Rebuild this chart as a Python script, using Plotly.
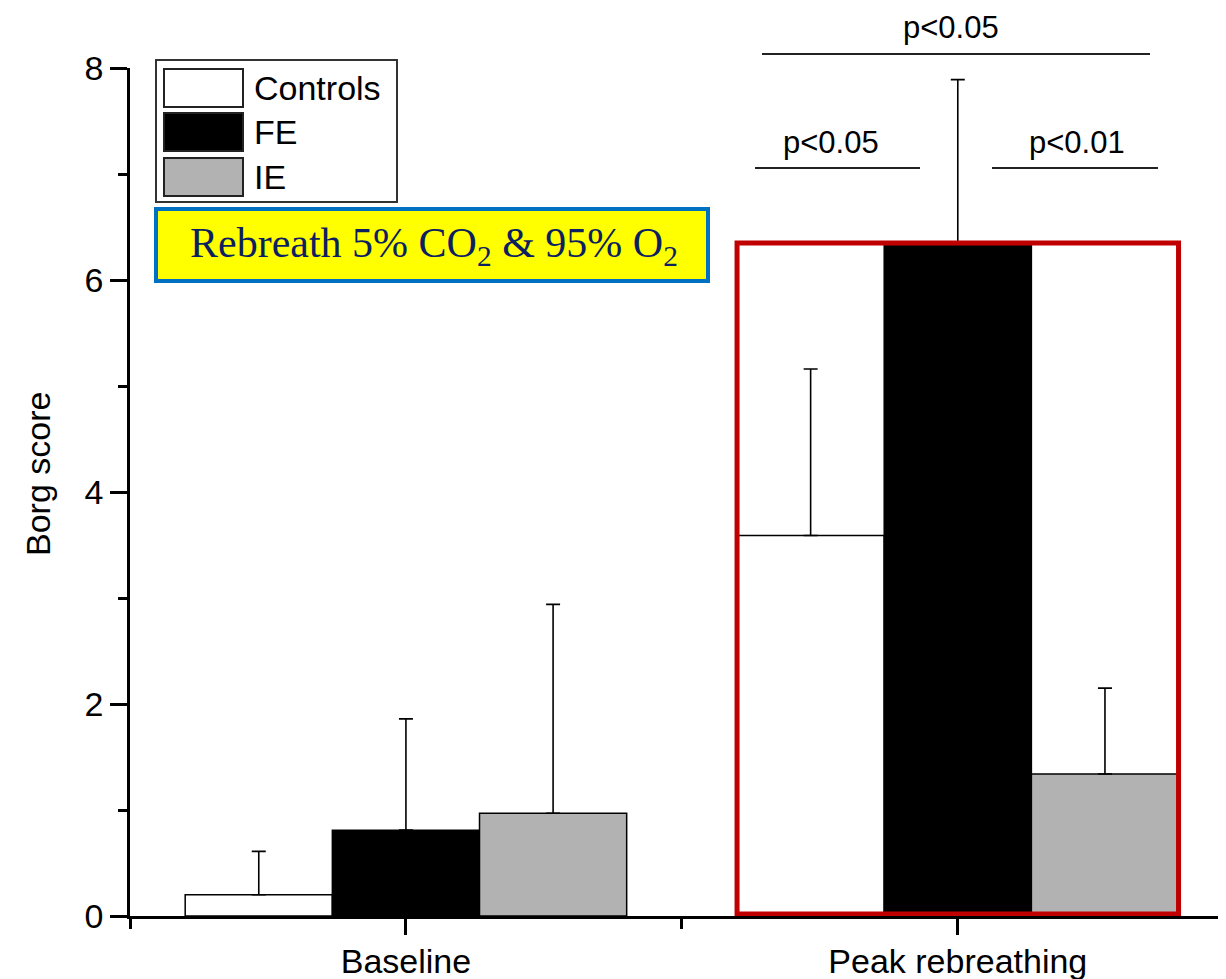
import plotly.graph_objects as go

# ---------------- data ----------------
categories = ["Baseline", "Peak rebreathing"]
series_names = ["Controls", "FE", "IE"]
controls_mean = [0.20, 3.59]
controls_err = [0.41, 1.57]
fe_mean = [0.81, 6.36]
fe_err = [1.05, 1.53]
ie_mean = [0.97, 1.34]
ie_err = [1.97, 0.81]
y_ticks = [0, 2, 4, 6, 8]
y_title = "Borg score"
p_labels = ["p<0.05", "p<0.05", "p<0.01"]
box_text = "Rebreath 5% CO<sub>2</sub> &amp; 95% O<sub>2</sub>"

# ---------------- layout geometry ----------------
# page has an 8px body margin, so margins are reduced by 8 to keep plot at reference pixels
W, H = 1226, 979
OFF = 8
PL, PR, PT, PB = 130, 1226, 68, 916          # plot area in reference pixels
ML, MT = PL - OFF, PT - OFF
MR = W - (PR - OFF)
MB = H - (PB - OFF)
PW, PH = PR - PL, PB - PT


def px(x):  # reference pixel x -> paper x
    return (x - PL) / PW


def py(y):  # reference pixel y -> paper y
    return (PB - y) / PH


FONT = "Liberation Sans, Arial, sans-serif"
FS = 34
colors = ["#ffffff", "#000000", "#b2b2b2"]
means = [controls_mean, fe_mean, ie_mean]
errs = [controls_err, fe_err, ie_err]
xpos = list(range(len(categories)))

fig = go.Figure()
for name, m, e, c in zip(series_names, means, errs, colors):
    fig.add_trace(go.Bar(
        x=xpos, y=m, name=name,
        marker=dict(color=c, line=dict(color="#000000", width=1.5)),
        error_y=dict(type="data", array=e, arrayminus=[0] * len(e), symmetric=False,
                     color="#000000", thickness=1.6, width=7),
        showlegend=False,
    ))

shapes = []
annotations = []

# red highlight box around peak group
shapes.append(dict(type="rect", xref="x", yref="y", x0=0.6, x1=1.4, y0=0.02, y1=6.35,
                   line=dict(color="#c00000", width=5), fillcolor="rgba(0,0,0,0)", layer="above"))

# custom legend
shapes.append(dict(type="rect", xref="paper", yref="paper", x0=px(156), x1=px(397), y0=py(202), y1=py(60),
                   line=dict(color="#333333", width=2), fillcolor="#ffffff"))
sw_rows = [(69, 107), (113, 151), (158, 196)]
for (t, b), c, name in zip(sw_rows, colors, series_names):
    shapes.append(dict(type="rect", xref="paper", yref="paper", x0=px(164), x1=px(243), y0=py(b), y1=py(t),
                       line=dict(color="#222222", width=2), fillcolor=c))
    annotations.append(dict(xref="paper", yref="paper", x=px(252), y=py((t + b) / 2), text=name,
                            showarrow=False, xanchor="left", yanchor="middle",
                            font=dict(family=FONT, size=FS, color="#000000")))

# yellow text box
shapes.append(dict(type="rect", xref="paper", yref="paper", x0=px(156), x1=px(708), y0=py(281), y1=py(209),
                   line=dict(color="#0070c0", width=4), fillcolor="#ffff00"))
annotations.append(dict(xref="paper", yref="paper", x=px(434), y=py(246), text=box_text, showarrow=False,
                        xanchor="center", yanchor="middle",
                        font=dict(family="Liberation Serif, Times New Roman, serif", size=42, color="#0c1f60")))

# significance brackets
sig_lines = [(762, 1150, 54), (755, 920, 168), (992, 1158, 168)]
sig_text = [(951, 28), (831, 143), (1077, 143)]
for (x0, x1, yy), (tx, ty), lab in zip(sig_lines, sig_text, p_labels):
    shapes.append(dict(type="line", xref="paper", yref="paper", x0=px(x0), x1=px(x1), y0=py(yy), y1=py(yy),
                       line=dict(color="#222222", width=2)))
    annotations.append(dict(xref="paper", yref="paper", x=px(tx), y=py(ty), text=lab, showarrow=False,
                            xanchor="center", yanchor="middle",
                            font=dict(family=FONT, size=31, color="#000000")))

# y-axis title (placed as rotated text, slightly above axis centre as in the reference)
annotations.append(dict(xref="paper", yref="paper", x=px(38), y=py(474), text=y_title, showarrow=False,
                        textangle=-90, xanchor="center", yanchor="middle",
                        font=dict(family=FONT, size=FS, color="#000000")))

fig.update_layout(
    width=W, height=H,
    margin=dict(l=ML, r=MR, t=MT, b=MB, pad=0, autoexpand=False),
    plot_bgcolor="#ffffff", paper_bgcolor="#ffffff",
    barmode="group", bargap=0.2, bargroupgap=0,
    font=dict(family=FONT, size=FS, color="#000000"),
    shapes=shapes, annotations=annotations,
    showlegend=False,
)
fig.update_xaxes(
    range=[-0.5, 1.486], tickvals=xpos, ticktext=categories, automargin=False,
    ticks="outside", ticklen=16, tickwidth=2.5, tickcolor="#000000",
    minor=dict(tickvals=[-0.5, 0.5, 1.5], ticks="outside", ticklen=10, tickwidth=2.5, tickcolor="#000000"),
    showline=True, linecolor="#000000", linewidth=2.5, showgrid=False, zeroline=False,
    tickfont=dict(family=FONT, size=FS), ticklabelstandoff=-3,
)
fig.update_yaxes(
    range=[0, 8], tickvals=y_ticks, automargin=False,
    ticks="outside", ticklen=17, tickwidth=2.5, tickcolor="#000000",
    minor=dict(dtick=1, ticks="outside", ticklen=9, tickwidth=2.5, tickcolor="#000000"),
    showline=True, linecolor="#000000", linewidth=2.5, showgrid=False, zeroline=False,
    tickfont=dict(family=FONT, size=FS),
)

fig.write_html("out.html")
